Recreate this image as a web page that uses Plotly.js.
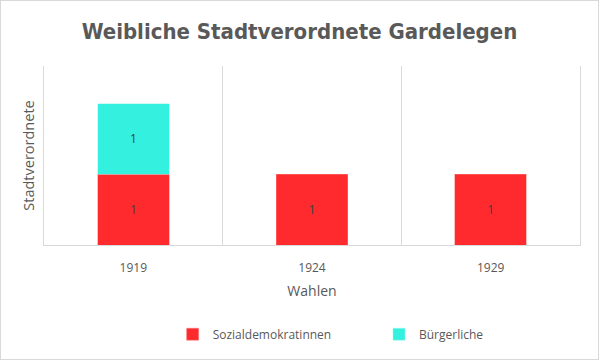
<!DOCTYPE html>
<html>
<head>
<meta charset="utf-8">
<script src="https://cdn.plot.ly/plotly-3.0.1.min.js"></script>
<style>
  html, body { margin: 0; padding: 0; background: #fff; }
  #chart { width: 597px; height: 358px; border: 1px solid #d9d9d9; }
</style>
</head>
<body>
<div id="chart"></div>
<script>
const categories = ["1919", "1924", "1929"];
const sozialdemokratinnen = [1, 1, 1];
const buergerliche = [1, null, null];
const seriesNames = ["Sozialdemokratinnen", "Bürgerliche"];

const baseFont = "'Open Sans', Roboto, sans-serif";
const textFont = { family: baseFont, size: 12, color: "#404040" };

const traces = [
  {
    type: "bar", name: seriesNames[0], x: categories, y: sozialdemokratinnen,
    marker: { color: "#FF2A2D", line: { color: "#ff7a7a", width: 0.5 } },
    text: sozialdemokratinnen.map(v => v == null ? "" : String(v)),
    textposition: "inside", insidetextanchor: "middle", textfont: textFont,
    hoverinfo: "none", legend: "legend"
  },
  {
    type: "bar", name: seriesNames[1], x: categories, y: buergerliche,
    marker: { color: "#33F0DF", line: { color: "#9ff7ef", width: 0.5 } },
    text: buergerliche.map(v => v == null ? "" : String(v)),
    textposition: "inside", insidetextanchor: "middle", textfont: textFont,
    hoverinfo: "none", legend: "legend2"
  }
];

const legendBase = {
  orientation: "h", xanchor: "left", y: -0.49, yanchor: "middle",
  font: { size: 12, color: "#595959" }, bgcolor: "rgba(0,0,0,0)"
};

const layout = {
  width: 597, height: 358,
  margin: { l: 43, r: 18, t: 65, b: 113 },
  paper_bgcolor: "#ffffff", plot_bgcolor: "#ffffff",
  barmode: "stack", bargap: 0.6,
  font: { family: baseFont, color: "#595959" },
  title: {
    text: "<b>Weibliche Stadtverordnete Gardelegen</b>",
    font: { family: "'DejaVu Sans Condensed', sans-serif", size: 22, color: "#595959" },
    x: 0.5, xanchor: "center", y: 0.915, yanchor: "middle"
  },
  xaxis: {
    type: "category", tickson: "boundaries", showgrid: true, gridcolor: "#d9d9d9", gridwidth: 1,
    showline: true, linecolor: "#d9d9d9", linewidth: 1, ticks: "",
    ticklabelstandoff: 12,
    tickfont: { size: 12, color: "#595959" },
    title: { text: "Wahlen", font: { size: 14, color: "#595959" }, standoff: 10 },
    fixedrange: true
  },
  yaxis: {
    range: [0, 2.53], showgrid: false, zeroline: false, showticklabels: false, ticks: "",
    showline: true, mirror: true, linecolor: "#d9d9d9", linewidth: 1,
    title: { text: "Stadtverordnete", font: { size: 14.5, color: "#595959" }, standoff: 4 },
    fixedrange: true
  },
  showlegend: true,
  legend: Object.assign({}, legendBase, { x: 0.24 }),
  legend2: Object.assign({}, legendBase, { x: 0.625 })
};

Plotly.newPlot("chart", traces, layout, { displayModeBar: false, staticPlot: true });
</script>
</body>
</html>
